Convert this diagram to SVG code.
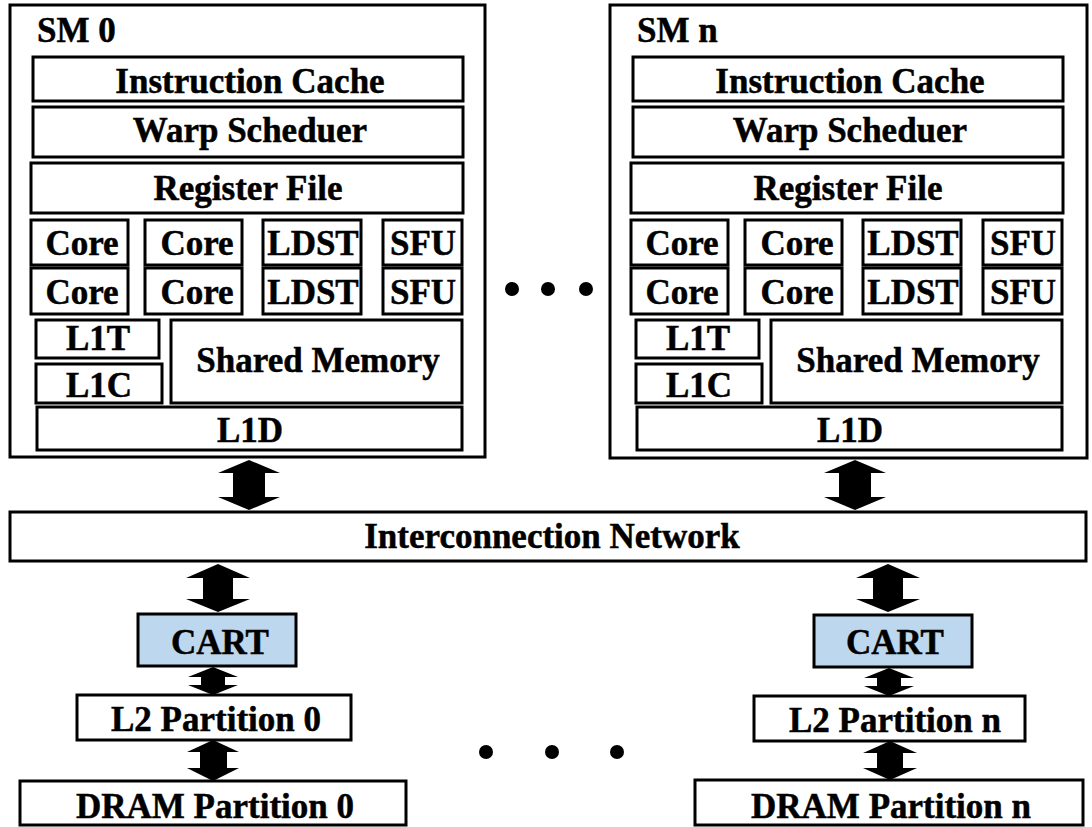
<svg xmlns="http://www.w3.org/2000/svg" width="1092" height="827" viewBox="0 0 1092 827">
  <style>
    .box { fill: #ffffff; stroke: #000000; stroke-width: 3; }
    .cart { fill: #bdd7ee; stroke: #000000; stroke-width: 3; }
    .lbl { font-family: "Liberation Serif", "Times New Roman", serif; font-weight: bold; font-size: 35px; fill: #000000; stroke: #000000; stroke-width: 0.5; text-anchor: middle; }
    .title { font-family: "Liberation Serif", "Times New Roman", serif; font-weight: bold; font-size: 35px; fill: #000000; stroke: #000000; stroke-width: 0.5; }
    .arrow { fill: #000000; stroke: none; }
    .dot { fill: #000000; }
  </style>
  <rect width="1092" height="827" fill="#ffffff"/>

  <!-- Streaming multiprocessor 0 -->
  <g id="sm-0">
    <rect class="box" x="10" y="5" width="475" height="452"/>
    <text class="title" x="37" y="42">SM 0</text>
    <g id="sm0-icache"><rect class="box" x="33" y="57" width="430" height="44"/><text class="lbl" x="250" y="93">Instruction Cache</text></g>
    <g id="sm0-warp"><rect class="box" x="33" y="107" width="430" height="50"/><text class="lbl" x="250" y="142">Warp Scheduer</text></g>
    <g id="sm0-regfile"><rect class="box" x="31" y="163" width="432" height="50"/><text class="lbl" x="248" y="200">Register File</text></g>
    <g id="sm0-core-1"><rect class="box" x="31" y="220" width="97" height="45"/><text class="lbl" x="82" y="255">Core</text></g>
    <g id="sm0-core-2"><rect class="box" x="145" y="220" width="97" height="45"/><text class="lbl" x="197" y="255">Core</text></g>
    <g id="sm0-ldst-1"><rect class="box" x="263" y="220" width="98" height="45"/><text class="lbl" x="313" y="255">LDST</text></g>
    <g id="sm0-sfu-1"><rect class="box" x="383" y="220" width="79" height="45"/><text class="lbl" x="423" y="255">SFU</text></g>
    <g id="sm0-core-3"><rect class="box" x="31" y="268" width="97" height="46"/><text class="lbl" x="82" y="304">Core</text></g>
    <g id="sm0-core-4"><rect class="box" x="145" y="268" width="97" height="46"/><text class="lbl" x="197" y="304">Core</text></g>
    <g id="sm0-ldst-2"><rect class="box" x="263" y="268" width="98" height="46"/><text class="lbl" x="313" y="304">LDST</text></g>
    <g id="sm0-sfu-2"><rect class="box" x="383" y="268" width="79" height="46"/><text class="lbl" x="423" y="304">SFU</text></g>
    <g id="sm0-l1t"><rect class="box" x="36" y="320" width="123" height="38"/><text class="lbl" x="98" y="350">L1T</text></g>
    <g id="sm0-l1c"><rect class="box" x="36" y="364" width="126" height="39"/><text class="lbl" x="99" y="397">L1C</text></g>
    <g id="sm0-shmem"><rect class="box" x="171" y="320" width="291" height="83"/><text class="lbl" x="318" y="372">Shared Memory</text></g>
    <g id="sm0-l1d"><rect class="box" x="37" y="407" width="425" height="43"/><text class="lbl" x="250" y="442">L1D</text></g>
  </g>

  <!-- Streaming multiprocessor n -->
  <g id="sm-n" transform="translate(600,0)">
    <rect class="box" x="10" y="5" width="477" height="453"/>
    <text class="title" x="37" y="42">SM n</text>
    <g id="smn-icache"><rect class="box" x="33" y="57" width="430" height="44"/><text class="lbl" x="250" y="93">Instruction Cache</text></g>
    <g id="smn-warp"><rect class="box" x="33" y="107" width="430" height="50"/><text class="lbl" x="250" y="142">Warp Scheduer</text></g>
    <g id="smn-regfile"><rect class="box" x="31" y="163" width="432" height="50"/><text class="lbl" x="248" y="200">Register File</text></g>
    <g id="smn-core-1"><rect class="box" x="31" y="220" width="97" height="45"/><text class="lbl" x="82" y="255">Core</text></g>
    <g id="smn-core-2"><rect class="box" x="145" y="220" width="97" height="45"/><text class="lbl" x="197" y="255">Core</text></g>
    <g id="smn-ldst-1"><rect class="box" x="263" y="220" width="98" height="45"/><text class="lbl" x="313" y="255">LDST</text></g>
    <g id="smn-sfu-1"><rect class="box" x="383" y="220" width="79" height="45"/><text class="lbl" x="423" y="255">SFU</text></g>
    <g id="smn-core-3"><rect class="box" x="31" y="268" width="97" height="46"/><text class="lbl" x="82" y="304">Core</text></g>
    <g id="smn-core-4"><rect class="box" x="145" y="268" width="97" height="46"/><text class="lbl" x="197" y="304">Core</text></g>
    <g id="smn-ldst-2"><rect class="box" x="263" y="268" width="98" height="46"/><text class="lbl" x="313" y="304">LDST</text></g>
    <g id="smn-sfu-2"><rect class="box" x="383" y="268" width="79" height="46"/><text class="lbl" x="423" y="304">SFU</text></g>
    <g id="smn-l1t"><rect class="box" x="36" y="320" width="123" height="38"/><text class="lbl" x="98" y="350">L1T</text></g>
    <g id="smn-l1c"><rect class="box" x="36" y="364" width="126" height="39"/><text class="lbl" x="99" y="397">L1C</text></g>
    <g id="smn-shmem"><rect class="box" x="171" y="320" width="291" height="83"/><text class="lbl" x="318" y="372">Shared Memory</text></g>
    <g id="smn-l1d"><rect class="box" x="37" y="407" width="425" height="43"/><text class="lbl" x="250" y="442">L1D</text></g>
  </g>

  <!-- ellipsis between SMs -->
  <g id="sm-ellipsis">
    <circle class="dot" cx="512" cy="289" r="7"/>
    <circle class="dot" cx="548" cy="289" r="7"/>
    <circle class="dot" cx="586" cy="289" r="7"/>
  </g>

  <g id="interconnect">
    <rect class="box" x="10" y="512" width="1076" height="49"/>
    <text class="lbl" x="552" y="548">Interconnection Network</text>
  </g>

  <g id="cart-0"><rect class="cart" x="138" y="614" width="158" height="52"/><text class="lbl" x="220" y="654">CART</text></g>
  <g id="cart-n"><rect class="cart" x="814" y="615" width="158" height="52"/><text class="lbl" x="895" y="654">CART</text></g>

  <g id="l2-0"><rect class="box" x="77" y="695" width="274" height="45"/><text class="lbl" x="216" y="731">L2 Partition 0</text></g>
  <g id="l2-n"><rect class="box" x="754" y="696" width="271" height="45"/><text class="lbl" x="895" y="732">L2 Partition n</text></g>

  <g id="dram-0"><rect class="box" x="20" y="781" width="386" height="44"/><text class="lbl" x="215" y="818">DRAM Partition 0</text></g>
  <g id="dram-n"><rect class="box" x="695" y="780" width="388" height="45"/><text class="lbl" x="891" y="818">DRAM Partition n</text></g>

  <!-- ellipsis between memory partitions -->
  <g id="mem-ellipsis">
    <circle class="dot" cx="486" cy="752" r="7"/>
    <circle class="dot" cx="552" cy="752" r="7"/>
    <circle class="dot" cx="617" cy="752" r="7"/>
  </g>

  <!-- double-headed block arrows -->
  <g id="connectors">
    <path class="arrow" d="M249,460 L280,473 L265,473 L265,497 L280,497 L249,510 L218,497 L233,497 L233,473 L218,473 Z"/>
    <path class="arrow" d="M855,460 L886,473 L871,473 L871,497 L886,497 L855,510 L824,497 L839,497 L839,473 L824,473 Z"/>
    <path class="arrow" d="M218,564 L250,578 L233,578 L233,599 L250,599 L218,612 L186,599 L203,599 L203,578 L186,578 Z"/>
    <path class="arrow" d="M888,564 L920,578 L903,578 L903,599 L920,599 L888,612 L856,599 L873,599 L873,578 L856,578 Z"/>
    <path class="arrow" d="M213,667 L238,677 L225,677 L225,685 L238,685 L213,695 L188,685 L201,685 L201,677 L188,677 Z"/>
    <path class="arrow" d="M889,668 L914,678 L901,678 L901,686 L914,686 L889,696 L864,686 L877,686 L877,678 L864,678 Z"/>
    <path class="arrow" d="M213,740 L239,752 L227,752 L227,768 L239,768 L213,781 L187,768 L200,768 L200,752 L187,752 Z"/>
    <path class="arrow" d="M890,741 L917,753 L903,753 L903,768 L917,768 L890,780 L863,768 L877,768 L877,753 L863,753 Z"/>
  </g>
</svg>
